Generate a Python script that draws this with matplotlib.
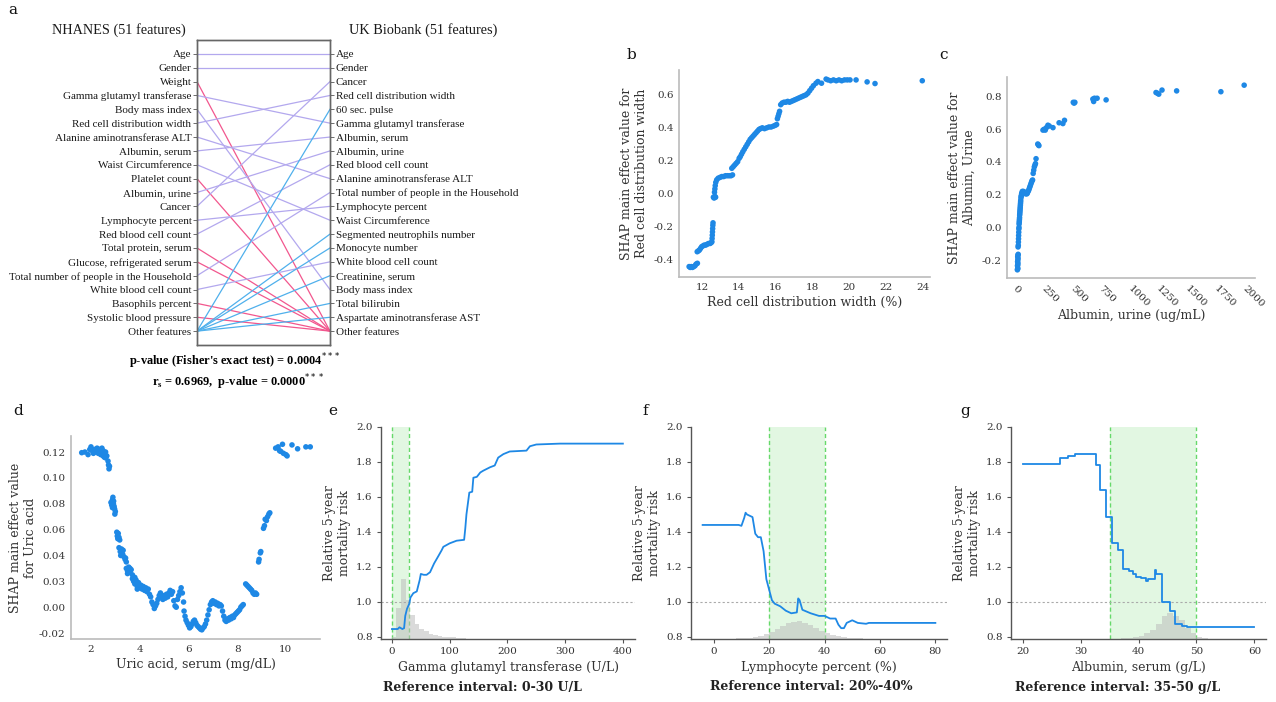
import matplotlib
matplotlib.use('Agg')
import matplotlib.pyplot as plt

# ---- panel a: feature rankings ----
nhanes_features = ['Age', 'Gender', 'Weight', 'Gamma glutamyl transferase', 'Body mass index',
                   'Red cell distribution width', 'Alanine aminotransferase ALT', 'Albumin, serum',
                   'Waist Circumference', 'Platelet count', 'Albumin, urine', 'Cancer',
                   'Lymphocyte percent', 'Red blood cell count', 'Total protein, serum',
                   'Glucose, refrigerated serum', 'Total number of people in the Household',
                   'White blood cell count', 'Basophils percent', 'Systolic blood pressure',
                   'Other features']
ukb_features = ['Age', 'Gender', 'Cancer', 'Red cell distribution width', '60 sec. pulse',
                'Gamma glutamyl transferase', 'Albumin, serum', 'Albumin, urine',
                'Red blood cell count', 'Alanine aminotransferase ALT',
                'Total number of people in the Household', 'Lymphocyte percent',
                'Waist Circumference', 'Segmented neutrophils number', 'Monocyte number',
                'White blood cell count', 'Creatinine, serum', 'Body mass index',
                'Total bilirubin', 'Aspartate aminotransferase AST', 'Other features']

# ---- panel b: red cell distribution width ----
rdw_x = [11.30, 11.36, 11.42, 11.48, 11.55, 11.62, 11.68, 11.75,
         11.74, 11.80, 11.86, 11.92, 11.98, 12.05, 12.12, 12.20, 12.28, 12.36, 12.44, 12.50, 12.54,
         12.55, 12.56, 12.57, 12.58, 12.59, 12.60,
         12.62, 12.66, 12.70, 12.74,
         12.68, 12.70, 12.72, 12.75, 12.80,
         12.88, 12.98, 13.08, 13.18, 13.28, 13.38, 13.48, 13.58, 13.66,
         13.62, 13.70, 13.78, 13.86, 13.94, 14.02, 14.08, 14.15, 14.22, 14.30, 14.38, 14.46, 14.54,
         14.62, 14.70, 14.78, 14.86, 14.94, 15.02, 15.10, 15.18,
         15.28, 15.40, 15.52, 15.64, 15.76, 15.88, 15.98, 16.06,
         16.10, 16.14, 16.18, 16.22,
         16.28, 16.36, 16.46, 16.56, 16.66, 16.76, 16.86, 16.96, 17.06, 17.16,
         17.26, 17.36, 17.46, 17.56, 17.66, 17.76, 17.86, 17.96, 18.06,
         18.20, 18.30, 18.50, 18.75, 18.85, 19.00, 19.15, 19.30, 19.45, 19.60, 19.75, 19.90,
         20.05, 20.38, 20.98, 21.41, 23.98]
rdw_shap = [-0.44, -0.445, -0.44, -0.445, -0.44, -0.435, -0.425, -0.42,
            -0.35, -0.345, -0.34, -0.33, -0.32, -0.315, -0.31, -0.31, -0.305, -0.30, -0.30, -0.295, -0.29,
            -0.27, -0.25, -0.23, -0.21, -0.19, -0.175,
            -0.02, -0.025, -0.015, -0.02,
            0.01, 0.03, 0.05, 0.07, 0.085,
            0.095, 0.10, 0.105, 0.105, 0.11, 0.11, 0.11, 0.11, 0.115,
            0.155, 0.165, 0.175, 0.185, 0.195, 0.215, 0.225, 0.24, 0.255, 0.27, 0.285, 0.30, 0.315,
            0.33, 0.34, 0.35, 0.36, 0.37, 0.38, 0.39, 0.395,
            0.40, 0.395, 0.40, 0.405, 0.405, 0.41, 0.415, 0.42,
            0.455, 0.47, 0.485, 0.50,
            0.54, 0.55, 0.555, 0.555, 0.56, 0.555, 0.56, 0.565, 0.57, 0.575,
            0.58, 0.585, 0.59, 0.595, 0.60, 0.61, 0.625, 0.64, 0.655,
            0.67, 0.68, 0.67, 0.695, 0.69, 0.685, 0.69, 0.685, 0.69, 0.685, 0.69, 0.69,
            0.69, 0.69, 0.678, 0.668, 0.685]

# ---- panel c: albumin, urine ----
alb_urine_x = [3, 5, 7, 4, 6, 8, 5, 7, 9, 6, 8, 10,
               9, 11, 12, 13, 14, 15, 16, 17, 18, 19, 20, 21, 22, 23, 24, 25, 26, 27, 28, 29,
               30, 31, 32, 34, 36, 38, 40, 42,
               46, 50, 55, 60, 65, 70, 75, 80, 85, 90, 95, 100, 105, 110,
               115, 120, 125, 130, 135, 140, 145, 150, 155, 160, 165,
               180, 185, 190,
               225, 235, 245, 255, 268, 280, 312, 365, 398, 412,
               488, 495, 502, 658, 665, 672, 695, 773, 1206, 1220, 1230, 1258, 1385, 1769, 1971]
alb_urine_shap = [-0.26, -0.255, -0.25, -0.235, -0.23, -0.22, -0.21, -0.2, -0.19, -0.18, -0.17, -0.165,
                  -0.12, -0.11, -0.09, -0.07, -0.05, -0.03, -0.01, 0.0, 0.02, 0.03, 0.04, 0.05, 0.06,
                  0.075, 0.085, 0.095, 0.105, 0.115, 0.125, 0.135,
                  0.145, 0.155, 0.165, 0.18, 0.19, 0.195, 0.205, 0.21,
                  0.22, 0.215, 0.22, 0.21, 0.215, 0.21, 0.205, 0.21, 0.205, 0.21, 0.22, 0.225, 0.235, 0.245,
                  0.255, 0.265, 0.275, 0.285, 0.29, 0.33, 0.35, 0.37, 0.38, 0.39, 0.42,
                  0.51, 0.505, 0.50,
                  0.595, 0.60, 0.595, 0.61, 0.625, 0.62, 0.61, 0.64, 0.635, 0.655,
                  0.765, 0.76, 0.765, 0.785, 0.77, 0.79, 0.79, 0.78, 0.825, 0.82, 0.815, 0.84, 0.835, 0.83, 0.87]

# ---- panel d: uric acid ----
uric_x = [1.62, 1.75, 1.88, 1.95, 2.0, 2.05, 2.1, 2.15, 2.2, 2.25, 2.3, 2.35, 2.4, 2.45, 2.5, 2.55, 2.6, 2.65,
          2.3, 2.4, 2.5, 2.55, 2.6,
          2.70, 2.72, 2.74, 2.76,
          2.82, 2.85, 2.88, 2.90, 2.92, 2.95, 2.97, 3.0, 2.88, 2.93, 2.98,
          3.06, 3.08, 3.10, 3.12, 3.15, 3.18,
          3.15, 3.2, 3.25, 3.3, 3.35, 3.4, 3.45, 3.22, 3.32, 3.42,
          3.45, 3.5, 3.55, 3.6, 3.65, 3.7, 3.5, 3.6,
          3.7, 3.75, 3.8, 3.85, 3.9, 3.95, 4.0, 3.8, 3.9,
          4.05, 4.1, 4.15, 4.2, 4.25, 4.3, 4.35, 4.4,
          4.45, 4.5, 4.55, 4.6, 4.65, 4.7,
          4.75, 4.8, 4.85, 4.9, 4.95, 5.0, 5.05, 5.1, 5.15, 5.2, 5.25, 5.3, 5.35,
          5.4, 5.45, 5.5, 5.55, 5.6, 5.65, 5.7, 5.75, 5.8,
          5.82, 5.86, 5.9, 5.95, 6.0, 6.05, 6.1, 6.15, 6.2, 6.25,
          6.3, 6.35, 6.4, 6.45, 6.5, 6.55, 6.6, 6.65, 6.7, 6.75,
          6.8, 6.85, 6.9, 6.95, 7.0, 7.05, 7.1, 7.15, 7.2, 7.25, 7.3, 7.35, 7.4,
          7.45, 7.5, 7.55, 7.6, 7.65, 7.7, 7.75, 7.8, 7.85, 7.9, 7.95, 8.0, 8.05, 8.1, 8.15, 8.2, 8.25,
          8.35, 8.4, 8.45, 8.5, 8.55, 8.6, 8.65, 8.7, 8.75, 8.8,
          8.88, 8.9, 8.95, 8.97,
          9.08, 9.12, 9.15, 9.2, 9.25, 9.3, 9.34,
          9.58, 9.68, 9.74, 9.79, 9.86, 9.9, 10.0, 10.05, 10.25, 10.48, 10.82, 11.0]
uric_shap = [0.1195, 0.120, 0.118, 0.122, 0.124, 0.121, 0.119, 0.122, 0.120, 0.123, 0.121, 0.122, 0.120,
             0.123, 0.121, 0.118, 0.120, 0.117,
             0.119, 0.118, 0.117, 0.116, 0.1155,
             0.113, 0.110, 0.107, 0.109,
             0.081, 0.079, 0.083, 0.085, 0.080, 0.078, 0.076, 0.074, 0.077, 0.082, 0.072,
             0.058, 0.055, 0.053, 0.057, 0.054, 0.052,
             0.046, 0.043, 0.045, 0.041, 0.039, 0.037, 0.035, 0.040, 0.044, 0.038,
             0.030, 0.028, 0.031, 0.027, 0.029, 0.025, 0.026, 0.030,
             0.022, 0.020, 0.018, 0.021, 0.016, 0.019, 0.015, 0.023, 0.014,
             0.017, 0.014, 0.016, 0.013, 0.015, 0.012, 0.014, 0.010,
             0.008, 0.004, 0.002, -0.001, 0.001, 0.003,
             0.006, 0.009, 0.011, 0.008, 0.006, 0.009, 0.007, 0.010, 0.008, 0.011, 0.013, 0.010, 0.012,
             0.005, 0.001, 0.000, 0.006, 0.009, 0.012, 0.015, 0.011, 0.004,
             -0.003, -0.007, -0.010, -0.012, -0.014, -0.016, -0.015, -0.013, -0.011, -0.010,
             -0.012, -0.014, -0.015, -0.016, -0.017, -0.0175, -0.016, -0.015, -0.013, -0.010,
             -0.006, -0.002, 0.002, 0.004, 0.005, 0.003, 0.004, 0.002, 0.003, 0.001, 0.002, 0.001, -0.003,
             -0.007, -0.010, -0.011, -0.009, -0.010, -0.008, -0.009, -0.007, -0.008, -0.006, -0.005,
             -0.004, -0.003, -0.002, 0.000, 0.001, 0.002,
             0.018, 0.017, 0.016, 0.015, 0.014, 0.013, 0.011, 0.010, 0.011, 0.010,
             0.035, 0.037, 0.042, 0.043,
             0.061, 0.063, 0.068, 0.067, 0.070, 0.072, 0.073,
             0.123, 0.124, 0.121, 0.1205, 0.126, 0.119, 0.118, 0.117, 0.1255, 0.1225, 0.124, 0.124]
uric_yticks = [-0.02, 0.0, 0.02, 0.04, 0.06, 0.08, 0.10, 0.12]
uric_yticklabels = ['-0.02', '0.00', '0.03', '0.04', '0.06', '0.08', '0.10', '0.12']

# ---- panel e: gamma glutamyl transferase ----
ggt_x = [0, 10, 13, 18, 21, 23, 26, 30, 32, 37, 43, 48, 50, 55, 60, 66, 73, 80, 86, 89,
         100, 112, 125, 127, 129, 134, 139, 141, 147, 153, 158, 170, 178, 184, 193, 204, 233, 239, 250, 291, 400]
ggt_risk = [0.845, 0.845, 0.855, 0.845, 0.85, 0.92, 0.96, 0.99, 1.025, 1.05, 1.06, 1.125, 1.16, 1.155,
            1.155, 1.17, 1.22, 1.26, 1.295, 1.315, 1.335, 1.35, 1.355, 1.42, 1.5, 1.625, 1.63, 1.71,
            1.715, 1.74, 1.75, 1.77, 1.78, 1.825, 1.845, 1.86, 1.865, 1.89, 1.9, 1.905, 1.905]
ggt_bins = [-0.5, 7.5, 15.5, 23.5, 31.5, 39.5, 47.5, 55.5, 63.5, 71.5, 79.5, 87.5, 95.5, 103.5, 111.5, 119.5]
ggt_hist = [0.80, 0.965, 1.13, 1.01, 0.927, 0.876, 0.845, 0.832, 0.817, 0.81, 0.805, 0.802, 0.80,
            0.797, 0.795, 0.794]

# ---- panel f: lymphocyte percent ----
lym_x = [-4, 9, 10, 11, 11.5, 12, 14, 15, 16, 17, 18, 19, 20, 21, 22, 24, 26, 28, 30, 30.5,
         31, 32, 35, 38, 40, 42, 44, 45, 46, 47, 48, 50, 52, 55, 56, 80]
lym_risk = [1.44, 1.44, 1.435, 1.48, 1.51, 1.50, 1.485, 1.39, 1.37, 1.37, 1.29, 1.13, 1.07, 1.01, 0.99,
            0.975, 0.95, 0.935, 0.94, 1.02, 1.01, 0.955, 0.935, 0.92, 0.92, 0.905, 0.905, 0.87, 0.85,
            0.85, 0.88, 0.895, 0.88, 0.875, 0.88, 0.88]
lym_bins = [8, 10, 12, 14, 16, 18, 20, 22, 24, 26, 28, 30, 32, 34, 36, 38, 40, 42, 44, 46, 48, 50, 52, 54]
lym_hist = [0.791, 0.793, 0.796, 0.80, 0.806, 0.815, 0.828, 0.845, 0.862, 0.878, 0.888, 0.89, 0.882,
            0.868, 0.852, 0.836, 0.822, 0.812, 0.804, 0.799, 0.796, 0.793, 0.791, 0.79]

# ---- panel g: albumin, serum ----
alb_x = [20, 26.5, 27.8, 29.0, 30.2, 32.6, 33.4, 34.4, 35.4, 36.5, 37.4, 38.4, 39.0, 39.6, 40.5, 41.3,
         41.6, 42.8, 43.0, 44.0, 45.5, 46.3, 47.5, 48.4, 60]
alb_risk = [1.787, 1.825, 1.833, 1.843, 1.848, 1.782, 1.64, 1.487, 1.339, 1.297, 1.187, 1.175, 1.16,
            1.145, 1.136, 1.117, 1.13, 1.183, 1.16, 1.0, 0.946, 0.872, 0.865, 0.857, 0.857]
alb_bins = [36, 37, 38, 39, 40, 41, 42, 43, 44, 45, 46, 47, 48, 49, 50, 51, 52]
alb_hist = [0.79, 0.792, 0.795, 0.80, 0.805, 0.82, 0.84, 0.875, 0.918, 0.936, 0.92, 0.898, 0.85, 0.82,
            0.80, 0.793, 0.79]

BLUE = '#1e88e5'
PURPLE = '#b3a8ee'
PINK = '#f2578e'
LBLUE = '#4fb0ec'
SERIF = 'DejaVu Serif'
NARROW = 'Liberation Serif'
TXT = '#333333'
W, H = 1276, 702


def box(l, t, r, b):
    return [l / W, 1 - b / H, (r - l) / W, (b - t) / H]


def panel_a(fig):
    ax = fig.add_axes(box(197, 40, 330, 345))
    n = len(nhanes_features)
    other = n - 1
    for i, f in enumerate(nhanes_features[:-1]):
        if f in ukb_features:
            ax.plot([0, 1], [i, ukb_features.index(f)], color=PURPLE, lw=0.9)
        else:
            ax.plot([0, 1], [i, other], color=PINK, lw=0.9)
    for j, f in enumerate(ukb_features[:-1]):
        if f not in nhanes_features:
            ax.plot([0, 1], [other, j], color=LBLUE, lw=0.9)
    ax.set_xlim(0, 1)
    ax.set_ylim(n - 1 + 1.0, -1.0)
    ax.set_xticks([])
    ax.set_yticks(range(n))
    ax.set_yticklabels(nhanes_features, fontsize=8, family=NARROW, color='#1a1a1a')
    ax.tick_params(axis='y', length=3, width=0.6, color='#555555', pad=1)
    ax2 = ax.twinx()
    ax2.set_ylim(n - 1 + 1.0, -1.0)
    ax2.set_yticks(range(n))
    ax2.set_yticklabels(ukb_features, fontsize=8, family=NARROW, color='#1a1a1a')
    ax2.tick_params(axis='y', length=3, width=0.6, color='#555555', pad=1)
    for a in (ax, ax2):
        for s in a.spines.values():
            s.set_color('#666666')
            s.set_linewidth(1.0)

    fig.text(119 / W, 1 - 30 / H, 'NHANES (51 features)', ha='center', va='center',
             fontsize=10.3, family=NARROW, color='#1a1a1a')
    fig.text(423 / W, 1 - 30 / H, 'UK Biobank (51 features)', ha='center', va='center',
             fontsize=10.3, family=NARROW, color='#1a1a1a')
    fig.text(235 / W, 1 - 361 / H, "p-value (Fisher's exact test) = 0.0004$^{***}$",
             ha='center', va='center', fontsize=8.9, family=NARROW, fontweight='bold')
    fig.text(238 / W, 1 - 382 / H, r"r$_\mathregular{s}$ = 0.6969,  p-value = 0.0000$^{***}$",
             ha='center', va='center', fontsize=8.9, family=NARROW, fontweight='bold')


def style_scatter_axes(ax):
    for s in ['top', 'right']:
        ax.spines[s].set_visible(False)
    for s in ['left', 'bottom']:
        ax.spines[s].set_color('#bbbbbb')
        ax.spines[s].set_linewidth(1.2)
    ax.tick_params(length=0, labelsize=7.5, labelcolor=TXT, pad=4)
    for lab in ax.get_xticklabels() + ax.get_yticklabels():
        lab.set_family(SERIF)


def scatter_panel(fig, rect, x, y, xlim, ylim, xticks, yticks, xlabel, ylabel, yfmt='%.1f', ypad=4):
    ax = fig.add_axes(rect)
    ax.scatter(x, y, s=16, color=BLUE, edgecolors='none')
    ax.set_xlim(*xlim)
    ax.set_ylim(*ylim)
    ax.set_xticks(xticks)
    ax.set_yticks(yticks)
    ax.set_yticklabels([yfmt % v for v in yticks])
    ax.set_xlabel(xlabel, fontsize=9, family=SERIF, color=TXT, labelpad=3)
    ax.set_ylabel(ylabel, fontsize=9, family=SERIF, color=TXT, labelpad=ypad)
    style_scatter_axes(ax)
    return ax


def risk_panel(fig, rect, x, y, bins, hist, bw, ref, xlim, xticks, xlabel, note, note_x, steps=False):
    ax = fig.add_axes(rect)
    ymin = 0.788
    ax.axvspan(ref[0], ref[1], color='#8fe08f', alpha=0.25, lw=0, zorder=0)
    for r in ref:
        ax.axvline(r, color='#66d96a', lw=1.0, ls=(0, (3, 2)), zorder=1)
    ax.bar(bins, [h - ymin for h in hist], width=bw, bottom=ymin, align='edge',
           color='#bdbdbd', alpha=0.55, lw=0, zorder=1)
    ax.axhline(1.0, color='#aaaaaa', lw=0.8, ls=(0, (2, 2)), zorder=1)
    ax.plot(x, y, color=BLUE, lw=1.3, zorder=3, drawstyle='steps-post' if steps else 'default')
    ax.set_xlim(*xlim)
    ax.set_ylim(ymin, 2.0)
    ax.set_xticks(xticks)
    yt = [0.8, 1.0, 1.2, 1.4, 1.6, 1.8, 2.0]
    ax.set_yticks(yt)
    ax.set_yticklabels(['%.1f' % v for v in yt])
    for s in ['top', 'right']:
        ax.spines[s].set_visible(False)
    for s in ['left', 'bottom']:
        ax.spines[s].set_color('#555555')
        ax.spines[s].set_linewidth(1.0)
    ax.tick_params(length=3, width=0.8, color='#555555', labelsize=7.5, labelcolor=TXT, pad=3)
    for lab in ax.get_xticklabels() + ax.get_yticklabels():
        lab.set_family(SERIF)
    ax.set_xlabel(xlabel, fontsize=9, family=SERIF, color=TXT, labelpad=3)
    ax.set_ylabel('Relative 5-year\nmortality risk', fontsize=9, family=SERIF, color=TXT, labelpad=4)
    fig.text(note_x / W, 1 - 687 / H, note, ha='center', va='center', fontsize=9,
             family=SERIF, fontweight='bold', color='#222222')
    return ax


def main():
    fig = plt.figure(figsize=(W / 100, H / 100), dpi=100)

    panel_a(fig)

    scatter_panel(fig, box(679, 70, 930, 277), rdw_x, rdw_shap, (10.75, 24.4), (-0.503, 0.75),
                  [12, 14, 16, 18, 20, 22, 24], [-0.4, -0.2, 0.0, 0.2, 0.4, 0.6],
                  'Red cell distribution width (%)',
                  'SHAP main effect value for\nRed cell distribution width')

    axc = scatter_panel(fig, box(1007, 77, 1255, 278), alb_urine_x, alb_urine_shap, (-87, 2065),
                        (-0.31, 0.92), [0, 250, 500, 750, 1000, 1250, 1500, 1750, 2000],
                        [-0.2, 0.0, 0.2, 0.4, 0.6, 0.8], 'Albumin, urine (ug/mL)',
                        'SHAP main effect value for\nAlbumin, Urine')
    for lab in axc.get_xticklabels():
        lab.set_rotation(-45)
        lab.set_ha('left')
        lab.set_rotation_mode('anchor')
    axc.xaxis.labelpad = 0

    axd = scatter_panel(fig, box(71, 436, 320, 639), uric_x, uric_shap, (1.18, 11.4), (-0.0246, 0.1324),
                        [2, 4, 6, 8, 10], uric_yticks, 'Uric acid, serum (mg/dL)',
                        'SHAP main effect value\nfor Uric acid', ypad=1)
    axd.set_yticklabels(uric_yticklabels, family=SERIF)

    risk_panel(fig, box(381, 427, 635, 639), ggt_x, ggt_risk, ggt_bins, ggt_hist, 8, (0, 30),
               (-19, 421), [0, 100, 200, 300, 400], 'Gamma glutamyl transferase (U/L)',
               'Reference interval: 0-30 U/L', 482)
    risk_panel(fig, box(691, 427, 947, 639), lym_x, lym_risk, lym_bins, lym_hist, 2, (20, 40),
               (-8.2, 84.2), [0, 20, 40, 60, 80], 'Lymphocyte percent (%)',
               'Reference interval: 20%-40%', 811)
    risk_panel(fig, box(1011, 427, 1266, 639), alb_x, alb_risk, alb_bins, alb_hist, 1, (35, 50),
               (18, 62), [20, 30, 40, 50, 60], 'Albumin, serum (g/L)',
               'Reference interval: 35-50 g/L', 1118, steps=True)

    letters = [('a', 13, 10), ('b', 631, 55), ('c', 943, 55), ('d', 18, 411),
               ('e', 333, 411), ('f', 645, 411), ('g', 965, 411)]
    for t, x, y in letters:
        fig.text(x / W, 1 - y / H, t, ha='center', va='center', fontsize=11, family=SERIF,
                 color='#111111')

    fig.savefig('out.png', dpi=100)


if __name__ == '__main__':
    main()
